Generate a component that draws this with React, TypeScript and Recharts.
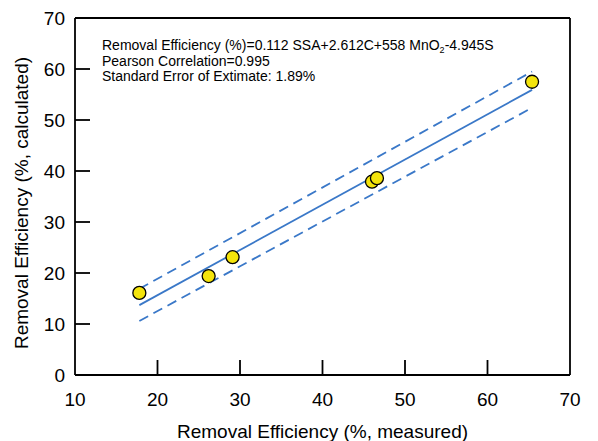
import { ComposedChart, Scatter, Line, XAxis, YAxis, ReferenceLine } from 'recharts';

// measured vs calculated removal efficiency (%)
const measured = [17.8, 26.2, 29.1, 46.0, 46.6, 65.4];
const calculated = [16.1, 19.4, 23.1, 37.9, 38.6, 57.5];

// regression line and confidence band end points
const fitX = [17.8, 65.4];
const fitY = [13.7, 55.9];
const upperY = [16.9, 59.5];
const lowerY = [10.6, 52.4];

const xTicks = [10, 20, 30, 40, 50, 60, 70];
const yTicks = [0, 10, 20, 30, 40, 50, 60, 70];

const BLUE = '#3a78c8';
const FONT = 'Arial, "Liberation Sans", sans-serif';

const points = measured.map((x, i) => ({ x, y: calculated[i] }));
const fitLine = fitX.map((x, i) => ({ x, y: fitY[i] }));
const upperLine = fitX.map((x, i) => ({ x, y: upperY[i] }));
const lowerLine = fitX.map((x, i) => ({ x, y: lowerY[i] }));

const XTick = ({ x, y, payload }: any) => {
  const inner = payload.value !== 10 && payload.value !== 70;
  return (
    <g>
      {inner && <line x1={x} y1={y} x2={x} y2={y - 15} stroke="#000" strokeWidth={1.8} />}
      <text x={x} y={y + 31} textAnchor="middle" fontSize={19} fontFamily={FONT} fill="#000">
        {payload.value}
      </text>
    </g>
  );
};

const YTick = ({ x, y, payload }: any) => {
  const inner = payload.value !== 0 && payload.value !== 70;
  return (
    <g>
      {inner && <line x1={x} y1={y} x2={x + 15} y2={y} stroke="#000" strokeWidth={1.8} />}
      <text x={x - 10} y={y} dy="0.36em" textAnchor="end" fontSize={19} fontFamily={FONT} fill="#000">
        {payload.value}
      </text>
    </g>
  );
};

const Dot = ({ cx, cy }: any) => (
  <circle cx={cx} cy={cy} r={6.5} fill="#f4e40c" stroke="#000" strokeWidth={1.3} />
);

export default function App() {
  return (
    <div style={{ position: 'absolute', left: 0, top: 0, width: 598, height: 441, background: '#fff' }}>
      <ComposedChart width={598} height={441} margin={{ top: 18, right: 28, left: 0, bottom: 0 }}>
        <XAxis
          type="number"
          dataKey="x"
          domain={[10, 70]}
          ticks={xTicks}
          height={66}
          tickSize={0}
          tickMargin={0}
          tick={<XTick />}
          axisLine={{ stroke: '#000', strokeWidth: 1.8 }}
          tickLine={false}
          label={{
            value: 'Removal Efficiency (%, measured)',
            position: 'insideBottom',
            offset: 3,
            fontSize: 19,
            fontFamily: FONT,
            fill: '#000',
          }}
        />
        <YAxis
          type="number"
          dataKey="y"
          domain={[0, 70]}
          ticks={yTicks}
          width={75}
          tickSize={0}
          tickMargin={0}
          tick={<YTick />}
          axisLine={{ stroke: '#000', strokeWidth: 1.8 }}
          tickLine={false}
          label={{
            content: () => (
              <text
                transform="translate(21,203) rotate(-90)"
                textAnchor="middle"
                dominantBaseline="central"
                fontSize={19}
                fontFamily={FONT}
                fill="#000"
              >
                Removal Efficiency (%, calculated)
              </text>
            ),
          }}
        />
        <ReferenceLine y={70} stroke="#000" strokeWidth={1.8} />
        <ReferenceLine x={70} stroke="#000" strokeWidth={1.8} />
        <Line data={upperLine} dataKey="y" stroke={BLUE} strokeWidth={1.8} strokeDasharray="10 6" dot={false} isAnimationActive={false} />
        <Line data={lowerLine} dataKey="y" stroke={BLUE} strokeWidth={1.8} strokeDasharray="10 6" dot={false} isAnimationActive={false} />
        <Line data={fitLine} dataKey="y" stroke={BLUE} strokeWidth={1.8} dot={false} isAnimationActive={false} />
        <Scatter data={points} dataKey="y" shape={<Dot />} isAnimationActive={false} />
      </ComposedChart>
      <div
        style={{
          position: 'absolute',
          left: 102,
          top: 38,
          fontFamily: FONT,
          fontSize: 14,
          lineHeight: '15.5px',
          color: '#000',
          whiteSpace: 'nowrap',
        }}
      >
        <div>
          Removal Efficiency (%)=0.112 SSA+2.612C+558 MnO<sub style={{ fontSize: 9, verticalAlign: -3, lineHeight: 0 }}>2</sub>-4.945S
        </div>
        <div>Pearson Correlation=0.995</div>
        <div>Standard Error of Extimate: 1.89%</div>
      </div>
    </div>
  );
}
